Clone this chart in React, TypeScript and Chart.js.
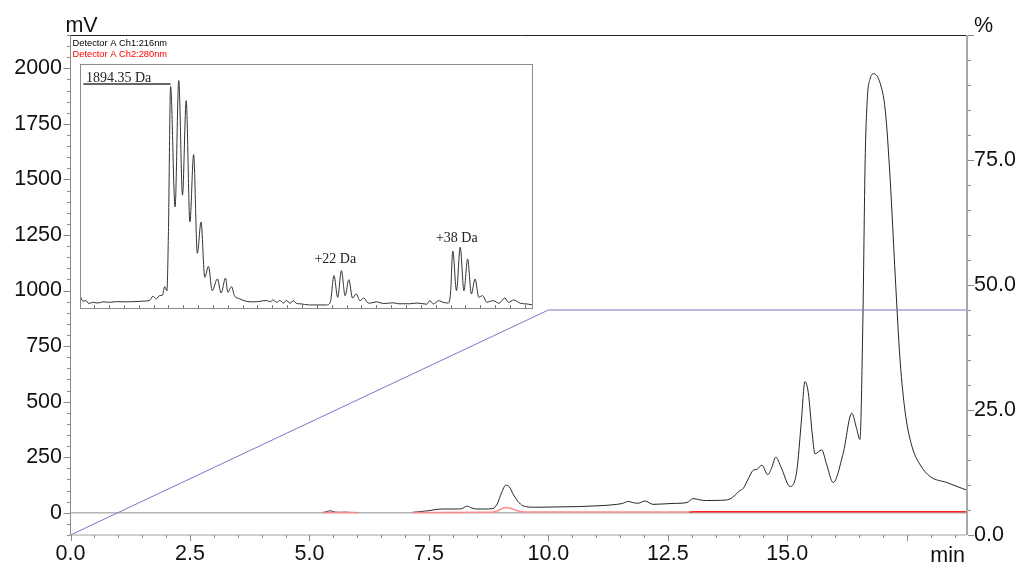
import React, { useEffect, useRef } from 'react';
import { Chart, registerables } from 'chart.js';

Chart.register(...registerables);

// ---------- Main chromatogram data ----------
const ch1Time = [5.29, 5.36, 5.43, 5.5, 5.6, 5.75, 5.9, 6.01, 6.5, 7.16, 7.3, 7.52, 7.65, 7.85, 8.05, 8.18, 8.3, 8.4, 8.5, 8.65, 8.84, 8.93, 9.02, 9.11, 9.18, 9.26, 9.34, 9.44, 9.55, 9.7, 10.1, 10.66, 11.1, 11.35, 11.55, 11.67, 11.78, 11.88, 12.02, 12.19, 12.61, 12.9, 13.03, 13.17, 13.31, 13.6, 13.8, 14.01, 14.08, 14.2, 14.29, 14.36, 14.47, 14.59, 14.67, 14.76, 14.87, 15.06, 15.2, 15.29, 15.37, 15.44, 15.52, 15.58, 15.72, 15.82, 15.96, 16.17, 16.35, 16.45, 16.52, 16.58, 16.63, 16.68, 16.73, 16.8, 16.94, 17.05, 17.15, 17.26, 17.36, 17.47, 17.61, 17.78, 17.99, 18.34, 18.74];
const ch1Mv = [2, 5, 9, 5, 2, 3, 1, 1, null, 2, 5, 10, 15, 17, 17, 18, 30, 21, 17, 17, 19, 40, 90, 124, 118, 85, 58, 35, 27, 25, 26, 28, 32, 36, 42, 51, 45, 43, 53, 38, 42, 46, 64, 58, 55, 56, 62, 100, 110, 160, 192, 195, 214, 172, 200, 250, 205, 118, 190, 400, 590, 540, 360, 265, 283, 220, 136, 268, 448, 380, 330, 840, 1590, 1880, 1950, 1976, 1935, 1812, 1512, 1062, 688, 448, 298, 216, 163, 136, 103];

const ch2Time = [5.29, 6.01, 6.5, 7.16, 8.8, 8.95, 9.1, 9.25, 9.4, 9.6, 12.95, 13.05, 18.74];
const ch2Mv = [1, 1, null, 1, 2, 10, 24, 17, 6, 3, 3, 5, 5];

const gradTime = [0, 10, 20];
const gradPct = [0, 45, 45];

const xTickValues = [0, 2.5, 5, 7.5, 10, 12.5, 15, 17.5];
const xTickLabels = ['0.0', '2.5', '5.0', '7.5', '10.0', '12.5', '15.0', ''];
const mvTickValues = [0, 250, 500, 750, 1000, 1250, 1500, 1750, 2000];
const mvTickLabels = ['0', '250', '500', '750', '1000', '1250', '1500', '1750', '2000'];
const pctTickValues = [0, 25, 50, 75];
const pctTickLabels = ['0.0', '25.0', '50.0', '75.0'];

const legendLabels = ['Detector A Ch1:216nm', 'Detector A Ch2:280nm'];
const legendColors = ['#000000', '#ff0000'];

// ---------- Inset mass spectrum data ----------
const msMass = [1882.1, 1882.5, 1882.9, 1883.3, 1883.8, 1884.5, 1885.2, 1886.1, 1887.0, 1888.3,
  1889.5, 1890.6, 1891.5, 1891.9, 1892.4, 1892.8, 1893.2, 1893.5, 1893.8, 1894.0,
  1894.3, 1894.9, 1895.4, 1895.9, 1896.4, 1896.9, 1897.4, 1897.9, 1898.4, 1898.9,
  1899.4, 1899.9, 1900.6, 1901.1, 1901.7, 1902.0, 1902.5, 1902.9, 1903.6, 1904.5,
  1905.5, 1906.3, 1907.2, 1907.7, 1908.1, 1908.6, 1909.0, 1909.5, 1909.9, 1910.4,
  1910.8, 1911.3, 1911.7, 1913.0, 1915.3, 1915.8, 1916.3, 1916.8, 1917.3, 1917.8,
  1918.3, 1918.8, 1919.3, 1919.8, 1920.3, 1920.8, 1921.1, 1922.0, 1923.0, 1924.3,
  1925.0, 1926.5, 1927.5, 1928.8, 1929.2, 1929.7, 1930.4, 1931.0, 1931.7, 1932.0,
  1932.3, 1932.8, 1933.3, 1933.8, 1934.3, 1934.8, 1935.3, 1935.8, 1936.3, 1936.9,
  1937.4, 1937.8, 1938.5, 1939.3, 1939.8, 1940.5, 1941.4, 1942.3, 1943.1];
const msIntensity = [2.8, 0.5, 0.7, -0.5, 0, -0.3, 0.2, 0, 0.3, 0.2,
  0.3, 0.5, 0.8, 2.5, 1.5, 2.8, 3, 6.6, 4.8, 28,
  90.5, 40, 93, 45, 84.6, 33.7, 62, 20.6, 33.7, 10.5,
  15.1, 4.9, 9.8, 3.9, 10.2, 4.2, 6.6, 2.8, 1.5, 0.4,
  0.2, 0.4, 0.8, 0.2, 1.0, 0, 0.8, -0.3, 0.8, -0.4,
  0.7, -0.5, -0.6, -1.1, -1.1, 0, 11.2, 2.1, 13.3, 2.8,
  9.5, 1.8, 3.5, 0.7, 1.8, 0, -0.4, 0.2, -0.5, -0.2,
  -0.6, -0.6, -0.3, -0.8, 0.7, -0.7, 0.7, 0, -0.3, 4,
  21.5, 4.9, 23.1, 4.9, 18.2, 3.5, 9.8, 2.1, 2.8, 0,
  0.5, 0.7, -0.4, 1.8, 0, 1.0, -0.4, -0.7, -1.1];

const msLabelText = ['1894.35 Da', '+22 Da', '+38 Da'];
const msLabelMass = [1882.9, 1916.47, 1932.84];
const msLabelIntensity = [92.6, 16.7, 25.5];
const msLabelAlign = ['left', 'center', 'center'];
const msMarkerStart = 1882.55;
const msMarkerEnd = 1894.3;
const msMarkerLevel = 91.6;

const SANS = 'Liberation Sans, Arial, sans-serif';
const SERIF = 'Liberation Serif, Times New Roman, serif';

const chromFrame = {
  id: 'chromFrame',
  beforeDatasetsDraw(chart: any) {
    const { ctx, chartArea: a, scales } = chart;
    const y0 = scales.y.getPixelForValue(0);
    ctx.save();
    ctx.strokeStyle = '#b4b4b4';
    ctx.lineWidth = 1.5;
    ctx.beginPath();
    ctx.moveTo(a.left, y0);
    ctx.lineTo(a.right, y0);
    ctx.stroke();
    ctx.restore();
  },
  afterDraw(chart: any) {
    const { ctx, chartArea: a, scales } = chart;
    const line = (x1: number, y1: number, x2: number, y2: number) => {
      ctx.beginPath();
      ctx.moveTo(x1, y1);
      ctx.lineTo(x2, y2);
      ctx.stroke();
    };
    ctx.save();
    // top line
    ctx.strokeStyle = '#222';
    ctx.lineWidth = 1;
    line(a.left, a.top + 0.5, a.right + 6, a.top + 0.5);
    // left axis
    ctx.strokeStyle = '#8a8a8a';
    line(a.left, a.top, a.left, a.bottom);
    for (let k = -2; k <= 43; k++) {
      const v = k * 50;
      const y = Math.round(scales.y.getPixelForValue(v)) + 0.5;
      const len = k % 5 === 0 ? 7 : 3.5;
      line(a.left - len, y, a.left, y);
    }
    // bottom axis
    ctx.strokeStyle = '#a0a0a0';
    line(a.left, a.bottom, a.right, a.bottom);
    ctx.strokeStyle = '#8a8a8a';
    for (let k = 0; k <= 37; k++) {
      const v = k * 0.5;
      const x = Math.round(scales.x.getPixelForValue(v)) + 0.5;
      const len = k % 5 === 0 ? 6 : 3;
      line(x, a.bottom, x, a.bottom + len);
    }
    // right axis
    ctx.strokeStyle = '#a8a8a8';
    ctx.lineWidth = 2;
    line(a.right + 1, a.top, a.right + 1, a.bottom);
    ctx.lineWidth = 1;
    ctx.strokeStyle = '#8a8a8a';
    for (let k = 0; k <= 20; k++) {
      const v = k * 5;
      const y = Math.round(scales.y2.getPixelForValue(v)) + 0.5;
      const len = k % 5 === 0 ? 6 : 3;
      line(a.right + 2, y, a.right + 2 + len, y);
    }
    // axis titles
    ctx.fillStyle = '#111';
    ctx.font = `21.5px ${SANS}`;
    ctx.textBaseline = 'alphabetic';
    ctx.textAlign = 'center';
    ctx.fillText('mV', a.left + 11, a.top - 3.5);
    ctx.textAlign = 'left';
    ctx.fillText('%', a.right + 8, a.top - 3.5);
    ctx.textAlign = 'right';
    ctx.fillText('min', a.right - 1, a.bottom + 26.5);
    // detector legend
    ctx.font = `9.3px ${SANS}`;
    ctx.textAlign = 'left';
    legendLabels.forEach((t, i) => {
      ctx.fillStyle = legendColors[i];
      ctx.fillText(t, a.left + 2, a.top + 10.7 + i * 10.8);
    });
    ctx.restore();
  },
};

const msFrame = {
  id: 'msFrame',
  beforeDraw(chart: any) {
    const { ctx, width, height } = chart;
    ctx.save();
    ctx.fillStyle = '#ffffff';
    ctx.fillRect(0, 0, width, height);
    ctx.restore();
  },
  afterDraw(chart: any) {
    const { ctx, chartArea: a, scales } = chart;
    ctx.save();
    ctx.strokeStyle = '#8c8c8c';
    ctx.lineWidth = 1;
    ctx.strokeRect(a.left + 0.5, a.top + 0.5, a.right - a.left - 1, a.bottom - a.top - 1);
    ctx.strokeStyle = '#777';
    for (let m = 1884; m <= 1942; m += 2) {
      const x = Math.round(scales.x.getPixelForValue(m)) + 0.5;
      ctx.beginPath();
      ctx.moveTo(x, a.bottom - 1);
      ctx.lineTo(x, a.bottom - 4);
      ctx.stroke();
    }
    // marker underline
    ctx.strokeStyle = '#333';
    ctx.lineWidth = 1.4;
    const ym = scales.y.getPixelForValue(msMarkerLevel);
    ctx.beginPath();
    ctx.moveTo(scales.x.getPixelForValue(msMarkerStart), ym);
    ctx.lineTo(scales.x.getPixelForValue(msMarkerEnd), ym);
    ctx.stroke();
    ctx.fillStyle = '#222';
    ctx.font = `14px ${SERIF}`;
    ctx.textBaseline = 'alphabetic';
    msLabelText.forEach((t, i) => {
      ctx.textAlign = msLabelAlign[i] as CanvasTextAlign;
      ctx.fillText(t, scales.x.getPixelForValue(msLabelMass[i]), scales.y.getPixelForValue(msLabelIntensity[i]));
    });
    ctx.restore();
  },
};

export default function App() {
  const mainRef = useRef<HTMLCanvasElement>(null);
  const insetRef = useRef<HTMLCanvasElement>(null);

  useEffect(() => {
    const labelFont = { family: SANS, size: 21.5 };
    const main = new Chart(mainRef.current as HTMLCanvasElement, {
      type: 'line',
      data: {
        datasets: [
          {
            label: 'Gradient',
            data: gradTime.map((t, i) => ({ x: t, y: gradPct[i] })),
            yAxisID: 'y2',
            borderColor: '#7878c4',
            borderWidth: 1,
            pointRadius: 0,
            tension: 0,
          },
          {
            label: legendLabels[1],
            data: ch2Time.map((t, i) => ({ x: t, y: ch2Mv[i] })),
            yAxisID: 'y',
            borderColor: '#ff2020',
            borderWidth: 1.5,
            pointRadius: 0,
            spanGaps: false,
            cubicInterpolationMode: 'monotone',
            segment: {
              borderColor: (c: any) => (ch2Time[c.p0DataIndex] < 12.9 ? '#ff8c8c' : '#ff2020'),
            },
          },
          {
            label: legendLabels[0],
            data: ch1Time.map((t, i) => ({ x: t, y: ch1Mv[i] })),
            yAxisID: 'y',
            borderColor: '#262626',
            borderWidth: 1,
            pointRadius: 0,
            spanGaps: false,
            cubicInterpolationMode: 'monotone',
          },
        ],
      } as any,
      options: {
        responsive: false,
        animation: false,
        devicePixelRatio: 1,
        layout: { padding: { top: 35, left: 0, right: 0, bottom: 0 } },
        plugins: { legend: { display: false }, tooltip: { enabled: false } },
        scales: {
          x: {
            type: 'linear',
            position: 'bottom',
            min: 0,
            max: 18.74,
            grid: { display: false, drawTicks: false },
            border: { display: false },
            afterBuildTicks: (s: any) => { s.ticks = xTickValues.map((v) => ({ value: v })); },
            afterFit: (s: any) => { s.height = 30; },
            ticks: {
              autoSkip: false,
              maxRotation: 0,
              padding: 6,
              color: '#111',
              font: labelFont,
              callback: (_v: any, i: number) => xTickLabels[i],
            },
          },
          y: {
            type: 'linear',
            position: 'left',
            min: -100,
            max: 2150,
            grid: { display: false, drawTicks: false },
            border: { display: false },
            afterBuildTicks: (s: any) => { s.ticks = mvTickValues.map((v) => ({ value: v })); },
            afterFit: (s: any) => { s.width = 70.5; },
            ticks: {
              autoSkip: false,
              padding: 8.5,
              color: '#111',
              font: labelFont,
              callback: (_v: any, i: number) => mvTickLabels[i],
            },
          },
          y2: {
            type: 'linear',
            position: 'right',
            min: 0,
            max: 100,
            grid: { display: false, drawTicks: false },
            border: { display: false },
            afterBuildTicks: (s: any) => { s.ticks = pctTickValues.map((v) => ({ value: v })); },
            afterFit: (s: any) => { s.width = 54; },
            ticks: {
              autoSkip: false,
              padding: 8,
              color: '#111',
              font: labelFont,
              callback: (_v: any, i: number) => pctTickLabels[i],
            },
          },
        },
      } as any,
      plugins: [chromFrame],
    });

    const inset = new Chart(insetRef.current as HTMLCanvasElement, {
      type: 'line',
      data: {
        datasets: [
          {
            label: 'MS',
            data: msMass.map((m, i) => ({ x: m, y: msIntensity[i] })),
            borderColor: '#333333',
            borderWidth: 1,
            pointRadius: 0,
            cubicInterpolationMode: 'monotone',
          },
        ],
      } as any,
      options: {
        responsive: false,
        animation: false,
        devicePixelRatio: 1,
        layout: { padding: 0 },
        plugins: { legend: { display: false }, tooltip: { enabled: false } },
        scales: {
          x: { type: 'linear', display: false, min: 1882.1, max: 1943.1 },
          y: { type: 'linear', display: false, min: -2.8, max: 100 },
        },
      } as any,
      plugins: [msFrame],
    });

    return () => {
      main.destroy();
      inset.destroy();
    };
  }, []);

  return (
    <div style={{ position: 'fixed', left: 0, top: 0, width: 1020, height: 565, background: '#ffffff' }}>
      <canvas ref={mainRef} width={1020} height={565} style={{ position: 'absolute', left: 0, top: 0 }} />
      <canvas ref={insetRef} width={453} height={245} style={{ position: 'absolute', left: 80, top: 64 }} />
    </div>
  );
}
